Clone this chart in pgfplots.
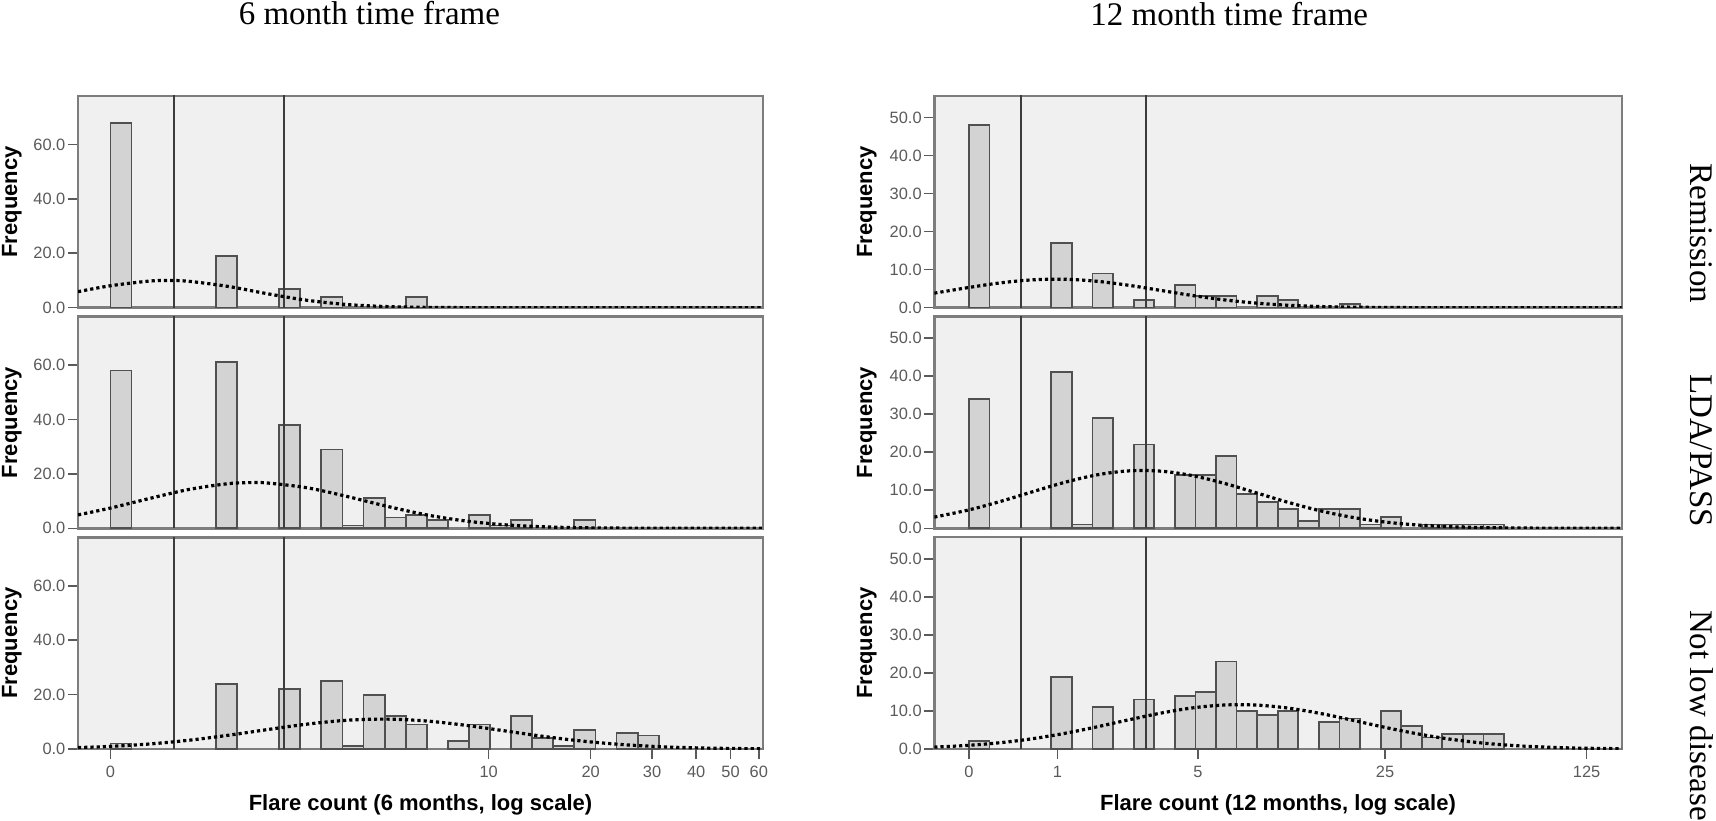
\documentclass[border=0pt]{standalone}
\usepackage{fontspec}
\setmainfont{Liberation Serif}
\setsansfont{Liberation Sans}
\usepackage{pgfplots}
\pgfplotsset{compat=1.18}
\definecolor{bgc}{RGB}{240,240,240}
\definecolor{barc}{RGB}{211,211,211}
\definecolor{baredge}{RGB}{80,80,80}
\definecolor{framec}{RGB}{125,125,125}
\definecolor{refc}{RGB}{60,60,60}
\definecolor{tickc}{RGB}{90,90,90}
\pgfplotsset{
  panel/.style={
    scale only axis, height=105.85pt,
    axis background/.style={fill=bgc},
    axis line style={draw=framec, line width=1.2pt},
    ymin=0, enlargelimits=false, clip=true,
    tick pos=left, tick align=outside, major tick length=5pt,
    tick style={draw=tickc, line width=0.8pt},
    ticklabel style={font=\sffamily\fontsize{8.2}{10}\selectfont, text=tickc},
    yticklabel style={xshift=2.2pt},
    ylabel={Frequency},
    ylabel style={font=\sffamily\bfseries\fontsize{11}{13}\selectfont, anchor=center},
    xlabel style={font=\sffamily\bfseries\fontsize{11}{13}\selectfont, anchor=center, at={(axis description cs:0.5,-0.2645)}},
  },
  leftcol/.style={panel, width=342.5pt, xmin=-0.206, xmax=4.1376, ymax=77.83,
    ytick={0,20,40,60}, yticklabels={0.0,20.0,40.0,60.0},
    ylabel style={at={(axis description cs:-0.0964,0.5)}}},
  rightcol/.style={panel, width=343.7pt, xmin=-0.2717, xmax=5.111, ymax=55.64,
    ytick={0,10,20,30,40,50}, yticklabels={0.0,10.0,20.0,30.0,40.0,50.0},
    ylabel style={at={(axis description cs:-0.0983,0.5)}}},
  notx/.style={xtick=\empty},
  lbars/.style={ybar, bar width=0.1337, fill=barc, draw=baredge, line width=0.9pt},
  rbars/.style={ybar, bar width=0.16116, fill=barc, draw=baredge, line width=0.9pt},
  refl/.style={refc, line width=1pt},
  fitc/.style={black, line width=1.6pt, dash pattern=on 1.6pt off 1.5pt, smooth, tension=0.55},
}
\begin{document}
\begin{tikzpicture}
\path[use as bounding box] (0,0) rectangle (858pt,410pt);
\node[anchor=base west, font=\fontsize{16.5}{19}\selectfont] at (115.85pt,397.5pt) {6 month time frame};
\node[anchor=base west, font=\fontsize{16.5}{19}\selectfont] at (541.65pt,397.15pt) {12 month time frame};
\node[rotate=-90, anchor=base west, font=\fontsize{16.5}{19}\selectfont] at (845pt,331.65pt) {Remission};
\node[rotate=-90, anchor=base west, font=\fontsize{16.5}{19}\selectfont] at (845pt,226.5pt) {LDA/PASS};
\node[rotate=-90, anchor=base west, font=\fontsize{16.5}{19}\selectfont] at (845pt,108.5pt) {Not low disease};

% ---------- 6 month, Remission
\begin{axis}[leftcol, notx, at={(39pt,256.15pt)}, anchor=south west]
\addplot[lbars] coordinates {(0.0669,68) (0.7354,19) (1.1365,7) (1.4039,4) (1.9387,4)};
\addplot[refl] coordinates {(0.4055,0) (0.4055,100)};
\addplot[refl] coordinates {(1.0986,0) (1.0986,100)};
\addplot[fitc] coordinates {(-0.206,5.89) (0,8.07) (0.25,9.80) (0.375,10.0) (0.5,9.68) (0.75,7.78) (1.0,5.08) (1.25,2.70) (1.5,1.17) (1.75,0.41) (2.0,0.12) (2.25,0.03) (2.5,0.01) (3.0,0) (3.5,0) (4.14,0)};
\end{axis}
% ---------- 6 month, LDA/PASS
\begin{axis}[leftcol, notx, at={(39pt,145.85pt)}, anchor=south west]
\addplot[lbars] coordinates {(0.0669,58) (0.7354,61) (1.1365,38) (1.4039,29) (1.5376,1) (1.6713,11) (1.8050,4) (1.9387,5) (2.0724,3) (2.3397,5) (2.4734,1) (2.6071,3) (3.0082,3)};
\addplot[refl] coordinates {(0.4055,0) (0.4055,100)};
\addplot[refl] coordinates {(1.0986,0) (1.0986,100)};
\addplot[fitc] coordinates {(-0.206,4.93) (0,7.45) (0.25,11.0) (0.5,14.31) (0.75,16.43) (0.9,16.8) (1.0,16.63) (1.25,14.86) (1.5,11.71) (1.75,8.14) (2.0,4.99) (2.25,2.70) (2.5,1.29) (2.75,0.54) (3.0,0.20) (3.25,0.07) (3.5,0.02) (3.8,0) (4.14,0)};
\end{axis}
% ---------- 6 month, Not low disease
\begin{axis}[leftcol, at={(39pt,35.5pt)}, anchor=south west,
  xtick={0,2.3979,3.0445,3.4340,3.7136,3.9318,4.1109}, xticklabels={0,10,20,30,40,50,60},
  xlabel={Flare count (6 months, log scale)}]
\addplot[lbars] coordinates {(0.0669,2) (0.7354,24) (1.1365,22) (1.4039,25) (1.5376,1) (1.6713,20) (1.8050,12) (1.9387,9) (2.2060,3) (2.3397,9) (2.6071,12) (2.7408,4) (2.8745,1) (3.0082,7) (3.2756,6) (3.4093,5)};
\addplot[refl] coordinates {(0.4055,0) (0.4055,100)};
\addplot[refl] coordinates {(1.0986,0) (1.0986,100)};
\addplot[fitc] coordinates {(-0.206,0.52) (0,0.97) (0.25,1.86) (0.5,3.24) (0.75,5.08) (1.0,7.18) (1.25,9.17) (1.5,10.57) (1.75,10.99) (2.0,10.31) (2.25,8.73) (2.5,6.67) (2.75,4.60) (3.0,2.86) (3.25,1.61) (3.5,0.81) (3.75,0.37) (4.0,0.15) (4.14,0.09)};
\end{axis}

% ---------- 12 month, Remission
\begin{axis}[rightcol, notx, at={(467.15pt,256.15pt)}, anchor=south west]
\addplot[rbars] coordinates {(0.0806,48) (0.7252,17) (1.0475,9) (1.3699,2) (1.6922,6) (1.8533,3) (2.0145,3) (2.3368,3) (2.4980,2) (2.9814,1)};
\addplot[refl] coordinates {(0.4055,0) (0.4055,100)};
\addplot[refl] coordinates {(1.3863,0) (1.3863,100)};
\addplot[fitc] coordinates {(-0.272,3.82) (0,5.32) (0.25,6.54) (0.5,7.32) (0.75,7.47) (1.0,6.95) (1.25,5.89) (1.5,4.55) (1.75,3.20) (2.0,2.05) (2.25,1.20) (2.5,0.64) (2.75,0.31) (3.0,0.14) (3.25,0.06) (3.5,0.02) (4.0,0) (4.5,0) (5.12,0)};
\end{axis}
% ---------- 12 month, LDA/PASS
\begin{axis}[rightcol, notx, at={(467.15pt,145.85pt)}, anchor=south west]
\addplot[rbars] coordinates {(0.0806,34) (0.7252,41) (0.8864,1) (1.0475,29) (1.3699,22) (1.6922,14) (1.8533,14) (2.0145,19) (2.1756,9) (2.3368,7) (2.4980,5) (2.6591,2) (2.8203,5) (2.9814,5) (3.1426,1) (3.3037,3) (3.6261,1) (3.7872,1) (3.9484,1) (4.1095,1)};
\addplot[refl] coordinates {(0.4055,0) (0.4055,100)};
\addplot[refl] coordinates {(1.3863,0) (1.3863,100)};
\addplot[fitc] coordinates {(-0.272,2.94) (0,4.85) (0.25,7.10) (0.5,9.63) (0.75,12.08) (1.0,14.03) (1.25,15.09) (1.5,15.02) (1.75,13.84) (2.0,11.80) (2.25,9.32) (2.5,6.81) (2.75,4.61) (3.0,2.89) (3.25,1.68) (3.5,0.90) (3.75,0.45) (4.0,0.21) (4.25,0.09) (4.5,0.04) (4.8,0) (5.12,0)};
\end{axis}
% ---------- 12 month, Not low disease
\begin{axis}[rightcol, at={(467.15pt,35.5pt)}, anchor=south west,
  xtick={0,0.6931,1.7918,3.2581,4.8363}, xticklabels={0,1,5,25,125},
  xlabel={Flare count (12 months, log scale)}]
\addplot[rbars] coordinates {(0.0806,2) (0.7252,19) (1.0475,11) (1.3699,13) (1.6922,14) (1.8533,15) (2.0145,23) (2.1756,10) (2.3368,9) (2.4980,10) (2.8203,7) (2.9814,8) (3.3037,10) (3.4649,6) (3.6261,3) (3.7872,4) (3.9484,4) (4.1095,4)};
\addplot[refl] coordinates {(0.4055,0) (0.4055,100)};
\addplot[refl] coordinates {(1.3863,0) (1.3863,100)};
\addplot[fitc] coordinates {(-0.272,0.49) (0,0.97) (0.25,1.68) (0.5,2.72) (0.75,4.12) (1.0,5.81) (1.25,7.66) (1.5,9.42) (1.75,10.80) (2.0,11.56) (2.25,11.54) (2.5,10.75) (2.75,9.35) (3.0,7.59) (3.25,5.74) (3.5,4.06) (3.75,2.67) (4.0,1.64) (4.25,0.94) (4.5,0.51) (4.75,0.25) (5.0,0.12) (5.12,0.08)};
\end{axis}
\end{tikzpicture}
\end{document}
